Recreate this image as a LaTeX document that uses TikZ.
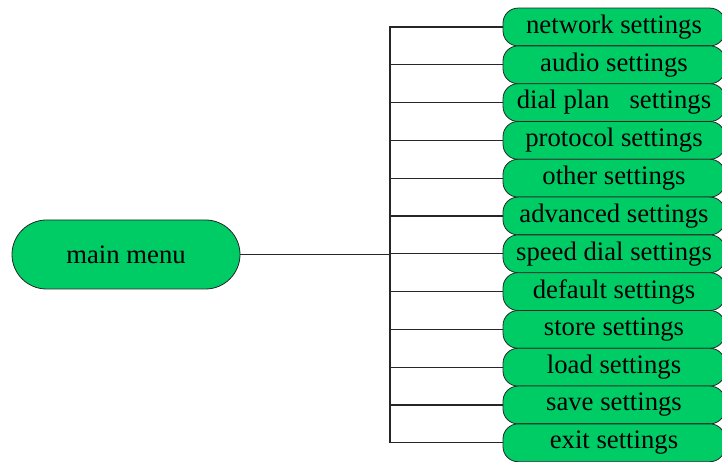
\documentclass[tikz,border=0pt]{standalone}
\usepackage{fontspec}
\setmainfont{Liberation Serif}
\usepackage{tikz}
\usetikzlibrary{positioning,shapes.misc}

\definecolor{menugreen}{RGB}{0,204,102}
\tikzset{
  menubox/.style={rounded rectangle,draw=black!85,fill=menugreen,line width=0.8pt,
    minimum width=228pt,minimum height=69pt,inner sep=0pt,
    font=\fontsize{26.7}{30}\selectfont},
  setbox/.style={rectangle,rounded corners=15pt,draw=black!85,fill=menugreen,line width=0.8pt,
    minimum width=222pt,minimum height=37.8pt,inner sep=0pt,outer sep=0pt,
    font=\fontsize{26.7}{30}\selectfont},
  link/.style={draw=black!85,line width=1.1pt}
}

\begin{document}
\begin{tikzpicture}[x=1pt,y=1pt]
\clip (0,0) rectangle (722,462);

\node[menubox] (main) at (126,207.5) {main menu};

\node[setbox] (net) at (614,435) {network settings};
\node[setbox,below=0pt of net] (audio) {audio settings};
\node[setbox,below=0pt of audio] (dial) {dial plan\ \ \ settings};
\node[setbox,below=0pt of dial] (proto) {protocol settings};
\node[setbox,below=0pt of proto] (other) {other settings};
\node[setbox,below=0pt of other] (adv) {advanced settings};
\node[setbox,below=0pt of adv] (speed) {speed dial settings};
\node[setbox,below=0pt of speed] (default) {default settings};
\node[setbox,below=0pt of default] (store) {store settings};
\node[setbox,below=0pt of store] (load) {load settings};
\node[setbox,below=0pt of load] (save) {save settings};
\node[setbox,below=0pt of save] (exit) {exit settings};

\coordinate (trunk) at (390,207.5);
\draw[link] (main.east) -- (trunk);
\draw[link] (net.west) -| (trunk);
\draw[link] (audio.west) -| (trunk);
\draw[link] (dial.west) -| (trunk);
\draw[link] (proto.west) -| (trunk);
\draw[link] (other.west) -| (trunk);
\draw[link] (adv.west) -| (trunk);
\draw[link] (speed.west) -| (trunk);
\draw[link] (default.west) -| (trunk);
\draw[link] (store.west) -| (trunk);
\draw[link] (load.west) -| (trunk);
\draw[link] (save.west) -| (trunk);
\draw[link] (exit.west) -| (trunk);
\end{tikzpicture}
\end{document}
